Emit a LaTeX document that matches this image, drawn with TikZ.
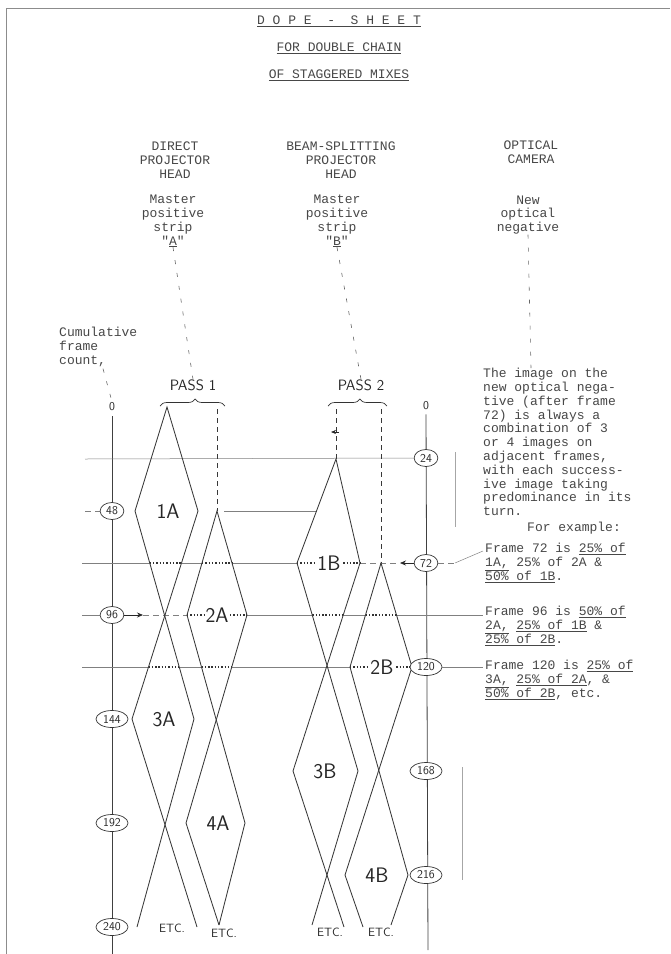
\documentclass[tikz,border=0pt]{standalone}
\usepackage{fontspec}
\setmonofont{Liberation Mono}
\usetikzlibrary{shapes.geometric,decorations.pathreplacing,calc,arrows.meta}
\begin{document}
\begin{tikzpicture}[x=1pt,y=-1pt,
  typed/.style={font=\ttfamily\fontsize{13}{13.8}\selectfont, text=black!72, align=center, inner sep=0pt},
  typedl/.style={typed, align=left},
  hand/.style={font=\sffamily\fontsize{21}{21}\selectfont, text=black!85, fill=white, inner sep=1pt},
  handsm/.style={font=\sffamily\fontsize{15}{15}\selectfont, text=black!85, inner sep=0pt},
  etcl/.style={font=\sffamily\fontsize{12}{12}\selectfont, text=black!85, inner sep=0pt},
  cnt/.style={ellipse, draw=black!80, line width=0.7pt, fill=white, inner xsep=2.5pt, inner ysep=1pt,
              minimum height=17pt, font=\sffamily\fontsize{12}{12}\selectfont, text=black!85},
  edgeline/.style={draw=black!78, line width=0.85pt},
  refline/.style={draw=black!50, line width=0.5pt},
  refdash/.style={refline, dash pattern=on 6pt off 4pt},
  dotline/.style={draw=black!80, line width=1.1pt, dash pattern=on 1.4pt off 1.9pt},
  leader/.style={draw=black!60, line width=0.6pt, dash pattern=on 4pt off 9pt},
  axisline/.style={draw=black!75, line width=0.8pt},
  arrowline/.style={draw=black!85, line width=0.8pt, -{Stealth[length=6pt,width=5pt]}},
  bracel/.style={draw=black!80, line width=0.7pt, decorate},
]
\useasboundingbox (0,0) rectangle (670,954);
% page frame
\draw[black!45, line width=1pt] (6,954) -- (6,8) -- (670,8);

% title
\node[typed] (t1) at (339,21) {\underline{D O P E\ \ -\ \ S H E E T}};
\node[typed] (t2) at (339,48) {\underline{FOR DOUBLE CHAIN}};
\node[typed] (t3) at (339,75) {\underline{OF STAGGERED MIXES}};

% column heads
\node[typed] (hA) at (175,160) {DIRECT\\PROJECTOR\\HEAD};
\node[typed] (hB) at (341,160) {BEAM-SPLITTING\\PROJECTOR\\HEAD};
\node[typed] (hC) at (531,152) {OPTICAL\\CAMERA};
\node[typed] (mA) at (173,221) {Master\\positive\\strip\\"\underline{A}"};
\node[typed] (mB) at (337,221) {Master\\positive\\strip\\"\underline{B}"};
\node[typed] (mC) at (528,215) {New\\optical\\negative};
\node[typedl, anchor=north west] (cum) at (59,327) {Cumulative\\frame\\count,};

% pass labels and braces
\node[handsm] (pass1) at (193,385) {PASS 1};
\node[handsm] (pass2) at (361,385) {PASS 2};
\draw[bracel, decoration={brace, amplitude=7pt, aspect=0.54}] (160,406) -- (225,406);
\draw[bracel, decoration={brace, amplitude=7pt, aspect=0.54}] (328,406) -- (387,406);

% axes
\node[inner sep=1pt, font=\sffamily\fontsize{12}{12}\selectfont, text=black!85] (L0) at (112,407) {0};
\node[inner sep=1pt, font=\sffamily\fontsize{12}{12}\selectfont, text=black!85] (R0) at (426,406) {0};
\coordinate (Lbot) at (112,954);
\coordinate (Rbot) at (428,950);
\draw[axisline, shorten <=4pt] (L0.south) -- (Lbot);
\draw[axisline, shorten <=3pt] (R0.south) -- (Rbot);

% chain vertices
\coordinate (A1t) at (167,407);
\coordinate (A1l) at (135,511);
\coordinate (A1r) at (198,511);
\coordinate (A3l) at (132,719);
\coordinate (A3r) at (194,719);
\coordinate (Ae1) at (137,927);
\coordinate (Ae2) at (197,927);
\coordinate (A2t) at (217,511);
\coordinate (A2l) at (187,615);
\coordinate (A2r) at (247,615);
\coordinate (A4l) at (186,823);
\coordinate (A4r) at (245,823);
\coordinate (A4b) at (219,925);
\coordinate (B1t) at (336,459);
\coordinate (B1l) at (297,563);
\coordinate (B1r) at (360,563);
\coordinate (B3l) at (293,771);
\coordinate (B3r) at (358,771);
\coordinate (Be1) at (312,925);
\coordinate (Be2) at (344,927);
\coordinate (B2t) at (381,563);
\coordinate (B2l) at (350,667);
\coordinate (B2r) at (412,667);
\coordinate (B4l) at (345,875);
\coordinate (B4r) at (408,875);
\coordinate (Bf1) at (363,927);
\coordinate (Bf2) at (391,925);

% brace feet
\coordinate (P2a) at (336,409);
\coordinate (P2b) at (381,409);
\coordinate (P1b) at (217,409);

% reference lines (drawn first)
\coordinate (T72) at (483,551);
\coordinate (T96) at (483,615);
\coordinate (T120) at (483,667);
\node[cnt] (R24) at (426,458) {24};
\draw[refline] (85,459) -- (R24.west);
\draw[refdash] (85,511) -- (100,511);
\draw[refline] (224,511) -- ($(B1t)!0.5!(B1l)$);
% y = 72
\draw[refline] (82,563) -- ($(A1l)!0.25!(A3r)$);
\draw[refline] ($(A1r)!0.25!(A3l)$) -- ($(A2t)!0.5!(A2l)$);
\draw[refline] ($(A2t)!0.5!(A2r)$) -- (B1l);
\draw[refdash] (B1r) -- (400,563);
% y = 96
\draw[refline] (82,615) -- (100,615);
\draw[refdash] (143,615) -- (A2l);
\draw[refline] (A2r) -- ($(B1l)!0.25!(B3r)$);
\draw[refline] ($(B1r)!0.25!(B3l)$) -- ($(B2t)!0.5!(B2l)$);
\draw[refline] ($(B2t)!0.5!(B2r)$) -- (T96);
% y = 120
\draw[refline] (82,667) -- ($(A1r)!0.75!(A3l)$);
\draw[refline] ($(A1l)!0.75!(A3r)$) -- ($(A2l)!0.25!(A4r)$);
\draw[refline] ($(A2r)!0.25!(A4l)$) -- (B2l);

% dotted lines inside the images
\draw[dotline] ($(A1l)!0.25!(A3r)$) -- ($(A1r)!0.25!(A3l)$);
\draw[dotline] ($(A2t)!0.5!(A2l)$) -- ($(A2t)!0.5!(A2r)$);
\draw[dotline] (B1l) -- (B1r);
\draw[dotline] (A2l) -- (A2r);
\draw[dotline] ($(B1l)!0.25!(B3r)$) -- ($(B1r)!0.25!(B3l)$);
\draw[dotline] ($(B2t)!0.5!(B2l)$) -- ($(B2t)!0.5!(B2r)$);
\draw[dotline] ($(A1r)!0.75!(A3l)$) -- ($(A1l)!0.75!(A3r)$);
\draw[dotline] ($(A2l)!0.25!(A4r)$) -- ($(A2r)!0.25!(A4l)$);
\draw[dotline] (B2l) -- (B2r);

% chain A (pass 1)
\draw[edgeline] (A1l) -- (A1t) -- (A1r);
\draw[edgeline] (A1l) -- (A3r) -- (Ae1);
\draw[edgeline] (A1r) -- (A3l) -- (Ae2);
\draw[edgeline] (A2l) -- (A2t) -- (A2r);
\draw[edgeline] (A2l) -- (A4r) -- (A4b);
\draw[edgeline] (A2r) -- (A4l) -- (A4b);
% chain B (pass 2)
\draw[edgeline] (B1l) -- (B1t) -- (B1r);
\draw[edgeline] (B1l) -- (B3r) -- (Be1);
\draw[edgeline] (B1r) -- (B3l) -- (Be2);
\draw[edgeline] (B2l) -- (B2t) -- (B2r);
\draw[edgeline] (B2l) -- (B4r) -- (Bf2);
\draw[edgeline] (B2r) -- (B4l) -- (Bf1);

% dashed feeds from the braces
\draw[edgeline, dash pattern=on 5pt off 4pt] (P1b) -- (A2t);
\draw[edgeline, dash pattern=on 5pt off 4pt] (P2a) -- (B1t);
\draw[edgeline, dash pattern=on 5pt off 4pt] (P2b) -- (B2t);
\draw[draw=black!85, line width=0.6pt, -{Stealth[length=5pt,width=4pt]}] (339,432) -- (331,432);

% image labels
\node[hand] (l1A) at (168,511) {1A};
\node[hand] (l2A) at (217,615) {2A};
\node[hand] (l3A) at (164,719) {3A};
\node[hand] (l4A) at (218,823) {4A};
\node[hand] (l1B) at (329,563) {1B};
\node[hand] (l2B) at (382,667) {2B};
\node[hand] (l3B) at (325,771) {3B};
\node[hand] (l4B) at (377,875) {4B};

% frame counts
\node[cnt] (L48) at (112,511) {48};
\node[cnt] (L96) at (112,615) {96};
\node[cnt] (L144) at (112,719) {144};
\node[cnt] (L192) at (112,823) {192};
\node[cnt] (L240) at (112,927) {240};
\node[cnt] (R72) at (426,563) {72};
\node[cnt] (R120) at (426,667) {120};
\node[cnt] (R168) at (426,771) {168};
\node[cnt] (R216) at (426,875) {216};
\draw[refdash] (100,511) -- (L48.west);
\draw[refline] (100,615) -- (L96.west);
\draw[arrowline] (L96.east) -- (143,615);
\draw[arrowline] (R72.west) -- (400,563);
\draw[refdash] (R72.east) -- (455,563);
\draw[refline] (455,563) -- (T72);
\draw[refline] (R120.east) -- (T120);

% side marks
\draw[draw=black!35, line width=0.7pt] (455,452) -- (455,527);
\draw[draw=black!35, line width=0.7pt] (462,767) -- (462,880);

% leaders from the heads
\draw[leader] (mA.south) -- (pass1.north);
\draw[leader] (mB.south) -- (pass2.north);
\draw[leader] (cum.south west) ++(44,2) -- (L0.north);
\coordinate (Cend) at (531,368);
\draw[leader] (mC.south) -- (Cend);

% etc.
\node[etcl] (etc1) at (172,928) {ETC.};
\node[etcl] (etc2) at (224,933) {ETC.};
\node[etcl] (etc3) at (330,932) {ETC.};
\node[etcl] (etc4) at (381,932) {ETC.};

% explanatory text
\node[typedl, anchor=north west] (expl) at (483,368) {The image on the\\new optical nega-\\tive (after frame\\72) is always a\\combination of 3\\or 4 images on\\adjacent frames,\\with each success-\\ive image taking\\predominance in its\\turn.};
\node[typedl, anchor=west] (ex) at (527,528) {For example:};
\node[typedl, anchor=north west] (f72) at ($(T72)+(2,-8)$) {Frame 72 is \underline{25\% of}\\\underline{1A,} 25\% of 2A \&\\\underline{50\% of 1B}.};
\node[typedl, anchor=north west] (f96) at ($(T96)+(2,-9)$) {Frame 96 is \underline{50\% of}\\\underline{2A,} \underline{25\% of 1B} \&\\\underline{25\% of 2B}.};
\node[typedl, anchor=north west] (f120) at ($(T120)+(2,-7)$) {Frame 120 is \underline{25\% of}\\\underline{3A,} \underline{25\% of 2A}, \&\\\underline{50\% of 2B}, etc.};
\end{tikzpicture}
\end{document}
